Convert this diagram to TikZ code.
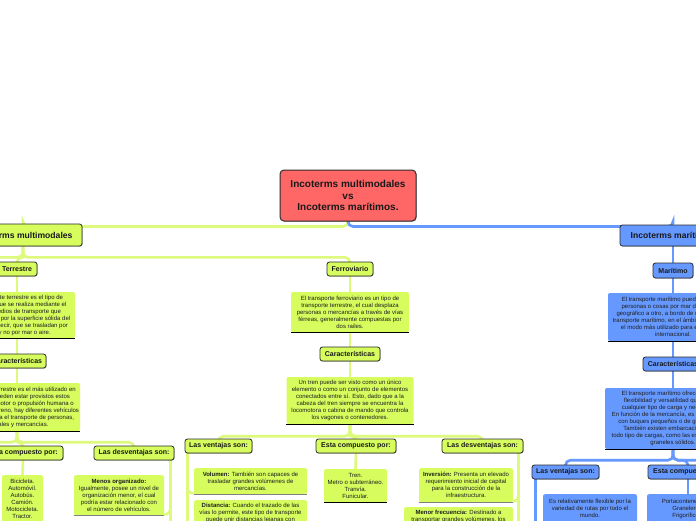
\documentclass[tikz,border=0pt]{standalone}
\usepackage{fontspec}
\setmainfont{Liberation Sans}
\usetikzlibrary{backgrounds,shadows,calc}
\definecolor{gfill}{RGB}{214,252,94}
\definecolor{glc}{RGB}{222,250,125}
\definecolor{bfill}{RGB}{102,153,255}
\definecolor{blc}{RGB}{102,153,255}
\definecolor{rootred}{RGB}{255,102,102}
\definecolor{edgec}{RGB}{45,45,45}
\definecolor{txtc}{RGB}{30,30,30}
\begin{document}
\begin{tikzpicture}[x=1pt,y=-1pt,
  gline/.style={draw=glc,line width=2.6pt,rounded corners=5pt},
  bline/.style={draw=blc,line width=2.6pt,rounded corners=5pt},
  rootbox/.style={fill=rootred,draw=edgec,line width=1pt,rounded corners=4pt,font=\fontsize{10}{11.5}\selectfont\bfseries,align=center,inner sep=0pt,text=black!90,drop shadow={shadow xshift=0.7pt,shadow yshift=-0.7pt,opacity=0.35,fill=black}},
  gtitle/.style={fill=gfill,draw=edgec,line width=0.8pt,rounded corners=2.5pt,font=\fontsize{7}{8}\selectfont\bfseries,inner sep=0pt,text=black!90,drop shadow={shadow xshift=0.6pt,shadow yshift=-0.6pt,opacity=0.35,fill=black}},
  btitle/.style={gtitle,fill=bfill},
  gdesc/.style={fill=gfill,rounded corners=2pt,font=\fontsize{6}{7}\selectfont,text=txtc,align=center,inner sep=0pt},
  bdesc/.style={gdesc,fill=bfill},
  uline/.style={draw=black,line width=0.9pt},
  gbar/.style={draw=black!50,line width=1.8pt},
]
\useasboundingbox (0,0) rectangle (696,520);

% ---------- nodes ----------
\node[rootbox,minimum width=136pt,minimum height=51pt] (root) at (348,195.5) {Incoterms multimodales\\vs\\Incoterms marítimos.};

\node[gtitle,font=\fontsize{8.6}{10}\selectfont\bfseries,minimum width=118pt,minimum height=22pt] (mm) at (23,235) {Incoterms multimodales};
\node[btitle,font=\fontsize{8.6}{10}\selectfont\bfseries,minimum width=106pt,minimum height=21pt] (mt) at (673,235.5) {Incoterms marítimos};

% left: Terrestre
\node[gtitle,minimum width=40pt,minimum height=14pt] (T) at (17,269) {Terrestre};
\node[gdesc,minimum width=116pt,minimum height=46pt] (TD) at (17,315) {El transporte terrestre es el tipo de\\transporte que se realiza mediante el\\uso de medios de transporte que\\se desplazan por la superficie sólida del\\planeta, es decir, que se trasladan por\\tierra y no por mar o aire.};
\node[gtitle,minimum width=58pt,minimum height=14pt] (TC) at (17,361) {Características};
\node[gdesc,minimum width=126pt,minimum height=48pt] (TCD) at (17,407) {El transporte terrestre es el más utilizado en\\el mundo. Pueden estar provistos estos\\vehículos de motor o propulsión humana o\\animal. En el terreno, hay diferentes vehículos\\destinados para el transporte de personas,\\animales y mercancías.};
\node[gtitle,minimum width=80pt,minimum height=14pt] (EC1) at (23,453) {Esta compuesto por:};
\node[gtitle,minimum width=80pt,minimum height=14pt] (LD1) at (134,453) {Las desventajas son:};
\node[gdesc,anchor=north,minimum width=41pt,minimum height=48pt] (BI) at (22.5,475) {Bicicleta.\\Automóvil.\\Autobús.\\Camión.\\Motocicleta.\\Tractor.};
\node[gdesc,anchor=north,minimum width=90pt,minimum height=40pt] (MO) at (119,475) {{\bfseries Menos organizado:}\\Igualmente, posee un nivel de\\organización menor, el cual\\podría estar relacionado con\\el número de vehículos.};

% middle: Ferroviario
\node[gtitle,minimum width=46pt,minimum height=14pt] (F) at (350,269) {Ferroviario};
\node[gdesc,minimum width=118pt,minimum height=40pt] (FD) at (350,312) {El transporte ferroviario es un tipo de\\transporte terrestre, el cual desplaza\\personas o mercancías a través de vías\\férreas, generalmente compuestas por\\dos railes.};
\node[gtitle,minimum width=60pt,minimum height=14pt] (FC) at (350,354) {Características};
\node[gdesc,minimum width=127pt,minimum height=47pt] (FCD) at (350,400.5) {Un tren puede ser visto como un único\\elemento o como un conjunto de elementos\\conectados entre sí. Esto, dado que a la\\cabeza del tren siempre se encuentra la\\locomotora o cabina de mando que controla\\los vagones o contenedores.};
\node[gtitle,minimum width=67pt,minimum height=14pt] (MV) at (218.5,446) {Las ventajas son:};
\node[gtitle,minimum width=80pt,minimum height=14pt] (MEC) at (356,446) {Esta compuesto por:};
\node[gtitle,minimum width=81pt,minimum height=14pt] (MD) at (482.5,446) {Las desventajas son:};
\node[gdesc,anchor=north,minimum width=113pt,minimum height=26pt] (VOL) at (250.5,468) {{\bfseries Volumen:} También son capaces de\\trasladar grandes volúmenes de\\mercancías.};
\node[gdesc,anchor=north,minimum width=113pt,minimum height=26pt] (DIST) at (250.5,500) {{\bfseries Distancia:} Cuando el trazado de las\\vías lo permite, este tipo de transporte\\puede unir distancias lejanas con};
\node[gdesc,anchor=north,minimum width=63pt,minimum height=33pt] (MIT) at (355.5,469) {Tren.\\Metro o subterráneo.\\Tranvía.\\Funicular.};
\node[gdesc,anchor=north,minimum width=94pt,minimum height=34pt] (INV) at (466,468) {{\bfseries Inversión:} Presenta un elevado\\requerimiento inicial de capital\\para la construcción de la\\infraestructura.};
\node[gdesc,anchor=north,minimum width=109pt,minimum height=19pt] (MF) at (458.5,507) {{\bfseries Menor frecuencia:} Destinado a\\transportar grandes volúmenes, los};

% right: Maritimo
\node[btitle,minimum width=40pt,minimum height=15pt] (Mar) at (673,270.5) {Marítimo};
\node[bdesc,minimum width=130pt,minimum height=48pt] (MarD) at (673,317) {El transporte marítimo puede trasladar\\personas o cosas por mar de un punto\\geográfico a otro, a bordo de un buque. El\\transporte marítimo, en el ámbito mundial, es\\el modo más utilizado para el comercio\\internacional.};
\node[btitle,minimum width=60pt,minimum height=14pt] (RC) at (673,364) {Características};
\node[bdesc,minimum width=136pt,minimum height=61pt] (RCD) at (673,418.5) {El transporte marítimo ofrece una gran\\flexibilidad y versatilidad que permite\\cualquier tipo de carga y necesidades.\\En función de la mercancía, es posible operar\\con buques pequeños o de gran tamaño.\\También existen embarcaciones para\\todo tipo de cargas, como las especiales o los\\graneles sólidos.};
\node[btitle,minimum width=67pt,minimum height=14pt] (RV) at (565.5,472) {Las ventajas son:};
\node[btitle,minimum width=80pt,minimum height=14pt] (REC) at (688,472) {Esta compuesto por:};
\node[bdesc,anchor=north,minimum width=94pt,minimum height=28pt] (RVI) at (590,494) {Es relativamente flexible por la\\variedad de rutas por todo el\\mundo.};
\node[bdesc,anchor=north,minimum width=82pt,minimum height=30pt] (RECI) at (688,494) {Portacontenedores.\\Graneleros.\\Frigoríficos.};

\coordinate (offL1) at (-100,280);
\coordinate (offL2) at (-100,465);
\coordinate (offR) at (800,480);

% ---------- underlines and bars ----------
\foreach \n in {TD,TCD,FD,FCD,MIT,MarD,RCD}
  \draw[uline] (\n.south west) -- (\n.south east);
\foreach \n in {VOL,MO,INV}
  \draw[gbar] (\n.south west) -- (\n.south east);

% ---------- connectors ----------
\begin{pgfonlayer}{background}
\fill[white] (0,0) rectangle (696,520);
\draw[gline] (root.south) -- ++(0,5) -| (mm.north);
\draw[bline] (root.south) -- ++(0,5) -| (mt.north);

\draw[gline] (mm.south) -- ++(0,11) -| (T.north);
\draw[gline] (mm.south) -- ++(0,11) -| (F.north);
\draw[gline] (mm.south) -- ++(0,11) -| (offL1);

\draw[gline] (T.south) -- (TD.north);
\draw[gline] (TD.south) -- (TC.north);
\draw[gline] (TC.south) -- (TCD.north);
\draw[gline] (TCD.south) -- ++(0,11) -| (EC1.north);
\draw[gline] (TCD.south) -- ++(0,11) -| (LD1.north);
\draw[gline] (TCD.south) -- ++(0,11) -| (offL2);
\draw[gline] (EC1.south) -- (BI.north);
\draw[gline] ([xshift=-4pt]LD1.south east) -- ++(0,90);
\draw[gline] ([xshift=-4pt]LD1.south east) |- ([yshift=1pt]MO.south east);

\draw[gline] (F.south) -- (FD.north);
\draw[gline] (FD.south) -- (FC.north);
\draw[gline] (FC.south) -- (FCD.north);
\draw[gline] (FCD.south) -- ++(0,12) -| (MV.north);
\draw[gline] (FCD.south) -- ++(0,12) -| (MEC.north);
\draw[gline] (FCD.south) -- ++(0,12) -| (MD.north);
\draw[gline] (MEC.south) -- (MIT.north);
\draw[gline] ([xshift=3pt]MV.south west) -- ++(0,90);
\draw[gline] ([xshift=3pt]MV.south west) |- ([yshift=1pt]VOL.south west);
\draw[gline] ([xshift=-5pt]MD.south east) -- ++(0,90);
\draw[gline] ([xshift=-5pt]MD.south east) |- ([yshift=1pt]INV.south east);

\draw[bline] (mt.south) -- (Mar.north);
\draw[bline] (Mar.south) -- (MarD.north);
\draw[bline] (MarD.south) -- (RC.north);
\draw[bline] (RC.south) -- (RCD.north);
\draw[bline] (RCD.south) -- ++(0,11) -| (RV.north);
\draw[bline] (RCD.south) -- ++(0,11) -| (REC.north);
\draw[bline] (RCD.south) -- ++(0,11) -| (offR);
\draw[bline] (REC.south) -- (RECI.north);
\draw[bline] ([xshift=4pt]RV.south west) -- ++(0,90);
\end{pgfonlayer}
\end{tikzpicture}
\end{document}
